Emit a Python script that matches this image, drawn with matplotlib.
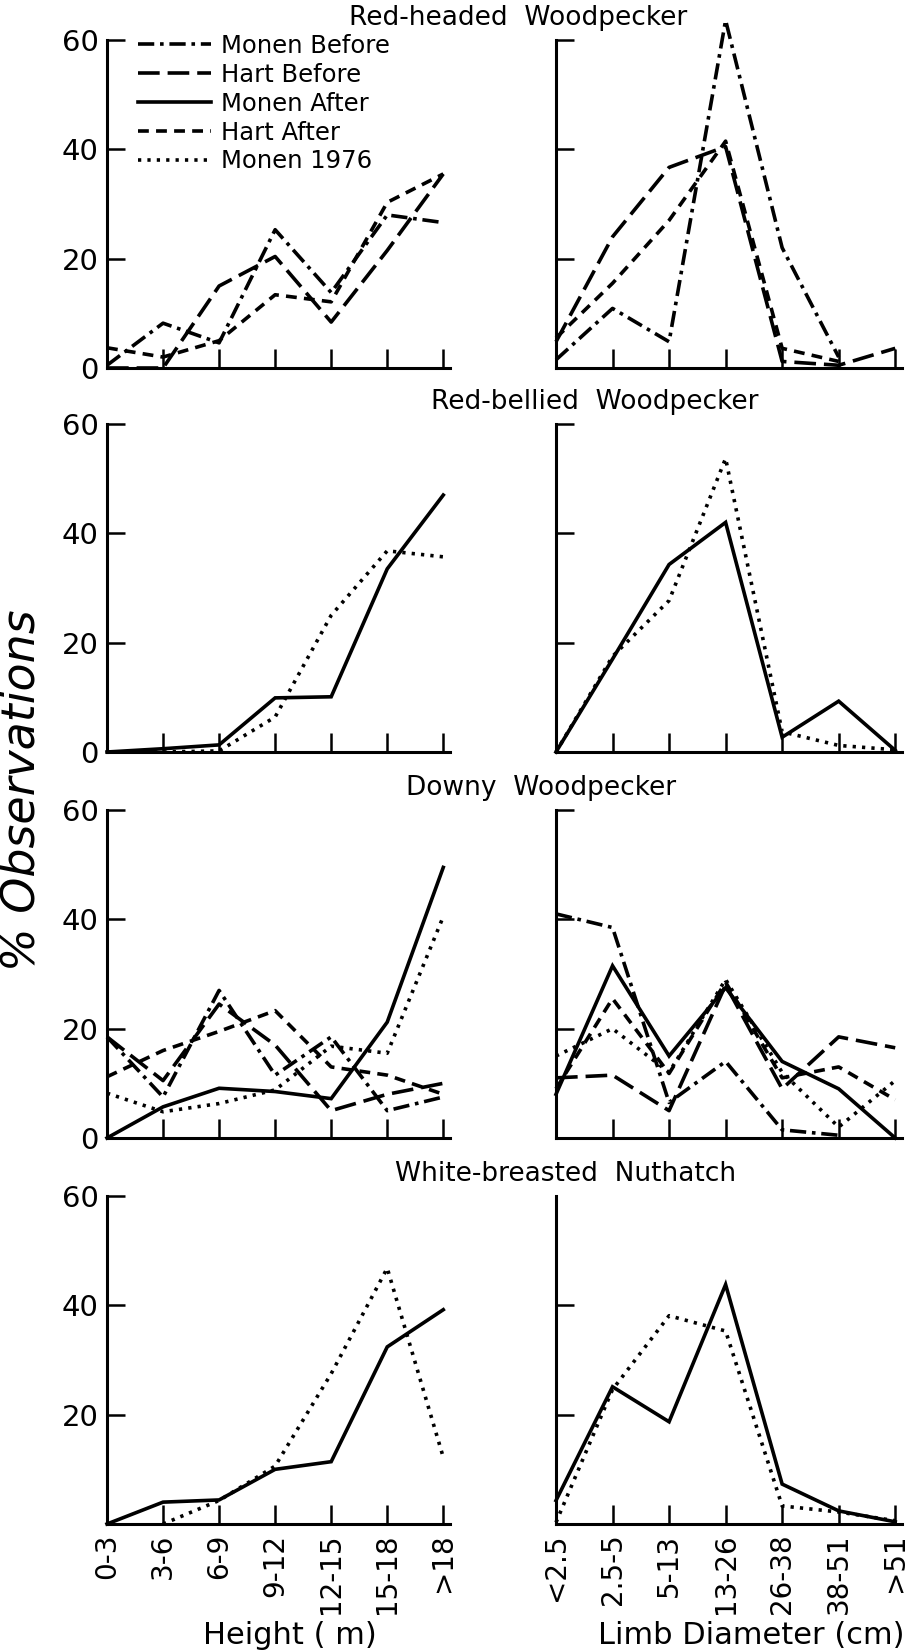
import numpy as np
import matplotlib

matplotlib.use("Agg")
import matplotlib.pyplot as plt
from matplotlib.lines import Line2D

nan = np.nan

height_labels = ["0-3", "3-6", "6-9", "9-12", "12-15", "15-18", ">18"]
limb_labels = ["<2.5", "2.5-5", "5-13", "13-26", "26-38", "38-51", ">51"]
series_names = ["Monen Before", "Hart Before", "Monen After", "Hart After", "Monen 1976"]
species = [
    "Red-headed  Woodpecker",
    "Red-bellied  Woodpecker",
    "Downy  Woodpecker",
    "White-breasted  Nuthatch",
]

# Red-headed Woodpecker
rh_height_monen_before = [0.5, 8.2, 4.6, 25.3, 13.8, 28, 26.6]
rh_height_hart_before = [0, 0, 15, 20.4, 8.4, 21.5, 35.5]
rh_height_hart_after = [3.7, 2, 5, 13.4, 12.1, 30.3, 35.5]
rh_limb_monen_before = [1.5, 10.9, 4.8, 63.6, 22, 2, nan]
rh_limb_hart_before = [4.8, 24, 36.7, 40.5, 1.2, 0.5, 3.6]
rh_limb_hart_after = [5.5, 15.5, 27, 41.5, 3.6, 1.2, nan]

# Red-bellied Woodpecker
rb_height_monen_after = [0, 0.6, 1.3, 9.9, 10.1, 33.5, 47]
rb_height_monen_1976 = [0, 0, 0.2, 6.4, 25, 36.8, 35.7]
rb_limb_monen_after = [0, 17, 34.3, 42, 2.7, 9.3, 0.3]
rb_limb_monen_1976 = [0, 17.5, 27.7, 53.7, 3.7, 1.2, 0.4]

# Downy Woodpecker
dw_height_monen_before = [18.5, 7.5, 27, 11.5, 18.5, 5, 7.5]
dw_height_hart_before = [18.5, 10.5, 24.5, 17, 5, 8, 10]
dw_height_monen_after = [0, 5.7, 9.1, 8.5, 7.2, 21.2, 49.5]
dw_height_hart_after = [11.2, 16, 19.5, 23.3, 13, 11.5, 8]
dw_height_monen_1976 = [8.2, 4.8, 6.3, 8.8, 16.8, 15.5, 40.5]
dw_limb_monen_before = [41, 38.5, 6.5, 14, 1.5, 0.5, nan]
dw_limb_hart_before = [11, 11.5, 5, 28, 9, 18.5, 16.5]
dw_limb_monen_after = [8, 31.5, 15, 27.5, 14, 9, 0]
dw_limb_hart_after = [9, 25.5, 11.8, 28.5, 11, 13, 7]
dw_limb_monen_1976 = [15, 20, 12, 29, 12, 2, 10.5]

# White-breasted Nuthatch
wb_height_monen_after = [0, 4, 4.4, 10, 11.4, 32.4, 39.2]
wb_height_monen_1976 = [nan, 0, 4.3, 10.6, 27.5, 46.8, 12.2]
wb_limb_monen_after = [4.3, 25.1, 18.7, 43.8, 7.3, 2.4, 0.4]
wb_limb_monen_1976 = [0.3, 24.6, 38.1, 35.3, 3.3, 2.2, 0.6]

# line styles (dash lengths in units of linewidth)
LW = 2.6
styles = {
    "Monen Before": (0, (4.5, 1.6, 1.0, 1.6)),
    "Hart Before": (0, (6.0, 2.2)),
    "Monen After": "-",
    "Hart After": (0, (3.0, 2.0)),
    "Monen 1976": (0, (0.9, 1.7)),
}

panels = [
    (
        {"Monen Before": rh_height_monen_before, "Hart Before": rh_height_hart_before,
         "Hart After": rh_height_hart_after},
        {"Monen Before": rh_limb_monen_before, "Hart Before": rh_limb_hart_before,
         "Hart After": rh_limb_hart_after},
    ),
    (
        {"Monen After": rb_height_monen_after, "Monen 1976": rb_height_monen_1976},
        {"Monen After": rb_limb_monen_after, "Monen 1976": rb_limb_monen_1976},
    ),
    (
        {"Monen Before": dw_height_monen_before, "Hart Before": dw_height_hart_before,
         "Monen After": dw_height_monen_after, "Hart After": dw_height_hart_after,
         "Monen 1976": dw_height_monen_1976},
        {"Monen Before": dw_limb_monen_before, "Hart Before": dw_limb_hart_before,
         "Monen After": dw_limb_monen_after, "Hart After": dw_limb_hart_after,
         "Monen 1976": dw_limb_monen_1976},
    ),
    (
        {"Monen After": wb_height_monen_after, "Monen 1976": wb_height_monen_1976},
        {"Monen After": wb_limb_monen_after, "Monen 1976": wb_limb_monen_1976},
    ),
]

W, H = 909, 1652
fig = plt.figure(figsize=(W / 100, H / 100), dpi=100)

baselines = [368, 752, 1138, 1524]  # pixel row of y=0 for each species
panel_h = 328
left_x0, left_w = 107, 343
right_x0, right_w = 556, 346
title_x = [518, 595, 541, 566]


def add_axes_px(x0, ybot, w, h):
    return fig.add_axes([x0 / W, 1 - ybot / H, w / W, h / H])


def style_axes(ax, is_bottom, labels, yticks, show_ylabels):
    ax.set_xlim(0, 6.12)
    ax.set_ylim(0, 60)
    for side in ("top", "right"):
        ax.spines[side].set_visible(False)
    for side in ("left", "bottom"):
        ax.spines[side].set_linewidth(2.2)
    ax.set_xticks(range(7))
    ax.set_yticks(yticks)
    ax.tick_params(axis="x", direction="in", length=14, width=1.8, pad=7)
    ax.tick_params(axis="y", direction="in", length=13, width=1.8, pad=6, labelsize=21)
    if is_bottom:
        ax.set_xticklabels(labels, rotation=90, fontsize=20, va="top", ha="center")
    else:
        ax.set_xticklabels([])
    if not show_ylabels:
        ax.set_yticklabels([])


for i, (height_data, limb_data) in enumerate(panels):
    ybot = baselines[i]
    is_bottom = i == len(panels) - 1
    ax_l = add_axes_px(left_x0, ybot, left_w, panel_h)
    ax_r = add_axes_px(right_x0, ybot, right_w, panel_h)

    for ax, data in ((ax_l, height_data), (ax_r, limb_data)):
        for name, vals in data.items():
            ax.plot(range(len(vals)), vals, color="black", lw=LW,
                    linestyle=styles[name], solid_joinstyle="miter",
                    clip_on=False, zorder=3)

    style_axes(ax_l, is_bottom, height_labels,
               [20, 40, 60] if is_bottom else [0, 20, 40, 60], True)
    style_axes(ax_r, is_bottom, limb_labels,
               [20, 40] if is_bottom else [20, 40, 60], False)

    fig.text(title_x[i] / W, 1 - (ybot - panel_h - 22) / H, species[i],
             fontsize=19, ha="center", va="center")

# legend for all five series in the first panel
handles = [Line2D([], [], color="black", lw=LW, linestyle=styles[n]) for n in series_names]
fig.legend(handles, series_names, loc="upper left",
           bbox_to_anchor=(138 / W, 1 - 34 / H), frameon=False, fontsize=17.5,
           handlelength=3.0, handletextpad=0.4, labelspacing=0.2,
           borderpad=0, borderaxespad=0)

fig.text(22 / W, 1 - 790 / H, "% Observations", rotation=90, style="italic",
         fontsize=33, ha="center", va="center")
fig.text(290 / W, 1 - 1635 / H, "Height ( m)", fontsize=22, ha="center", va="center")
fig.text(751 / W, 1 - 1635 / H, "Limb Diameter (cm)", fontsize=22, ha="center", va="center")

fig.savefig("out.png", dpi=100)
